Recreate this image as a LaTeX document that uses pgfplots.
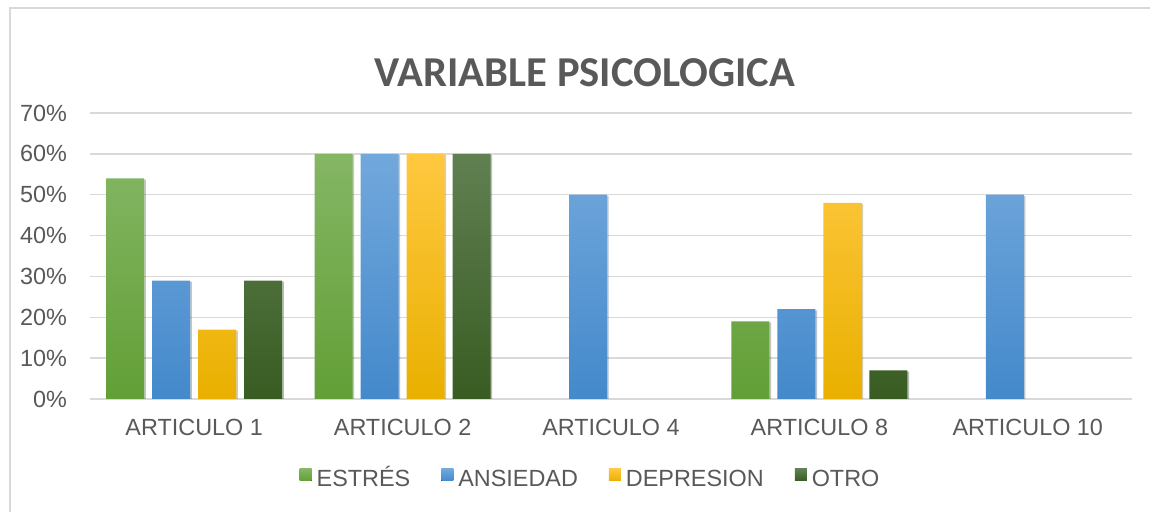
\documentclass[border=0pt]{standalone}
\usepackage{fontspec}
\setmainfont{Liberation Sans}
\newfontfamily\titlefont{Carlito}
\usepackage{pgfplots}
\pgfplotsset{compat=1.18}
\usetikzlibrary{shadows}
\definecolor{gridgray}{RGB}{217,217,217}
\definecolor{framegray}{RGB}{217,217,217}
\definecolor{labelgray}{RGB}{89,89,89}
\definecolor{greenT}{RGB}{133,182,100}
\definecolor{greenB}{RGB}{98,159,54}
\definecolor{blueT}{RGB}{114,168,220}
\definecolor{blueB}{RGB}{68,137,203}
\definecolor{yellowT}{RGB}{255,200,64}
\definecolor{yellowB}{RGB}{233,176,0}
\definecolor{dgreenT}{RGB}{97,128,82}
\definecolor{dgreenB}{RGB}{56,92,34}
\tikzset{
  barshadow/.style={drop shadow={shadow xshift=0.8pt,shadow yshift=-0.6pt,opacity=0.18,fill=black}},
  estres/.style={draw=none,top color=greenT,bottom color=greenB},
  ansiedad/.style={draw=none,top color=blueT,bottom color=blueB},
  depresion/.style={draw=none,top color=yellowT,bottom color=yellowB},
  otro/.style={draw=none,top color=dgreenT,bottom color=dgreenB}
}
\begin{document}
\begin{tikzpicture}
\useasboundingbox (-45pt,-56.5pt) rectangle (530pt,199.5pt);
\draw[framegray,line width=0.75pt] (-40pt,-60pt) -- (-40pt,195.5pt) -- (540pt,195.5pt);
\begin{axis}[
  scale only axis, width=521pt, height=143pt,
  ymin=0, ymax=70, ytick={0,10,...,70},
  xmin=-0.5, xmax=4.5, xtick={0,...,4},
  xticklabels={ARTICULO 1,ARTICULO 2,ARTICULO 4,ARTICULO 8,ARTICULO 10},
  ybar, bar width=19pt,
  axis line style={draw=none},
  ymajorgrids, grid style={draw=gridgray,line width=0.75pt},
  major tick length=0pt,
  /pgf/number format/assume math mode=true,
  tick label style={font=\fontsize{11.7}{13}\selectfont,text=labelgray},
  yticklabel={\pgfmathprintnumber{\tick}\%},
  yticklabel style={anchor=east,xshift=-8pt},
  xticklabel style={anchor=north,yshift=-6.5pt},
  legend columns=4,
  legend style={draw=none,at={(0.4794,-0.278)},anchor=center,
    font=\fontsize{11.7}{13}\selectfont,text=labelgray,
    nodes={inner xsep=0pt,text height=8.4pt,text depth=0pt},
    /tikz/every odd column/.append style={column sep=2.5pt},
    /tikz/every even column/.append style={column sep=15.5pt}},
  legend image code/.code={\fill[#1] (0pt,-1.2pt) rectangle (6pt,4.8pt);},
]
\addlegendimage{estres}
\addlegendimage{ansiedad}
\addlegendimage{depresion}
\addlegendimage{otro}
\addplot[estres,barshadow,bar shift=-34.5pt,forget plot] coordinates {(0,54) (1,60) (3,19)};
\addplot[ansiedad,barshadow,bar shift=-11.5pt,forget plot] coordinates {(0,29) (1,60) (2,50) (3,22) (4,50)};
\addplot[depresion,barshadow,bar shift=11.5pt,forget plot] coordinates {(0,17) (1,60) (3,48)};
\addplot[otro,barshadow,bar shift=34.5pt,forget plot] coordinates {(0,29) (1,60) (3,7)};
\legend{ESTRÉS,ANSIEDAD,DEPRESION,OTRO}
\end{axis}
\node[font=\titlefont\bfseries\fontsize{21.3}{25}\selectfont,text=labelgray] at (247.5pt,163pt) {VARIABLE PSICOLOGICA};
\end{tikzpicture}
\end{document}
